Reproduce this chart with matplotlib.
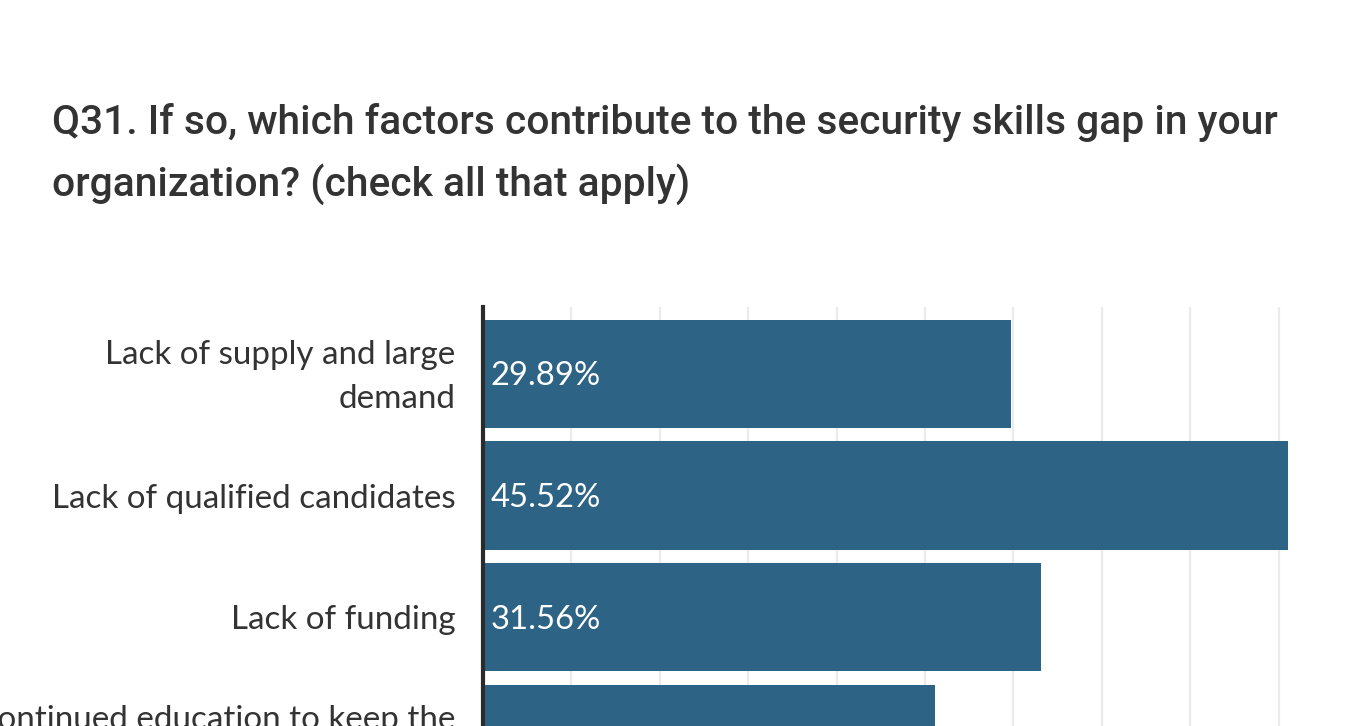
import matplotlib.pyplot as plt

# survey answers, share of respondents in percent
categories = [
    'Lack of supply and large\ndemand',
    'Lack of qualified candidates',
    'Lack of funding',
    'Lack of continued education to keep the\nskills current',
]
shares = [29.89, 45.52, 31.56, 25.55]
title = ('Q31. If so, which factors contribute to the security skills gap in your\n'
         'organization? (check all that apply)')

BAR_COLOR = '#2d6385'
TEXT_COLOR = '#333333'
W, H = 1355, 726


def main():
    fig = plt.figure(figsize=(W / 100, H / 100), dpi=100)
    fig.patch.set_facecolor('white')

    fig.text(52 / W, 1 - 103 / H, title, ha='left', va='top',
             fontsize=29.3, family='Roboto', fontweight='medium',
             color=TEXT_COLOR, linespacing=1.64)

    # axes in pixel units; it runs past the right and bottom edges
    px_per_row = 121.7
    top_px = 307
    y_top, y_bot = -0.55, 4.2
    ax_h = (y_bot - y_top) * px_per_row
    left_px = 483
    ax_w = 10 * 88.4
    ax = fig.add_axes([left_px / W, 1 - (top_px + ax_h) / H, ax_w / W, ax_h / H])
    ax.set_xlim(0, 50)
    ax.set_ylim(y_bot, y_top)

    ys = list(range(len(categories)))
    ax.barh(ys, shares, height=0.89, color=BAR_COLOR, zorder=2)

    for y, v in zip(ys, shares):
        ax.text(0.45, y + 0.02, f'{v:.2f}%', ha='left', va='center', color='white',
                fontsize=23.6, family='Lato', zorder=3)

    for y, lab in zip(ys, categories):
        ax.text(-1.55, y + 0.025, lab, ha='right', va='center', color=TEXT_COLOR,
                fontsize=23.9, family='Lato', linespacing=1.55,
                transform=ax.transData, clip_on=False)

    ax.set_xticks(range(5, 51, 5))
    ax.xaxis.grid(True, color='#ebebeb', linewidth=1.6, zorder=0)
    ax.tick_params(left=False, bottom=False, labelleft=False, labelbottom=False)
    for side in ['top', 'right', 'bottom']:
        ax.spines[side].set_visible(False)
    ax.spines['left'].set_color('#2b2b2b')
    ax.spines['left'].set_linewidth(3)
    ax.spines['left'].set_zorder(4)

    fig.savefig('out.png', dpi=100, facecolor='white')


if __name__ == '__main__':
    main()
